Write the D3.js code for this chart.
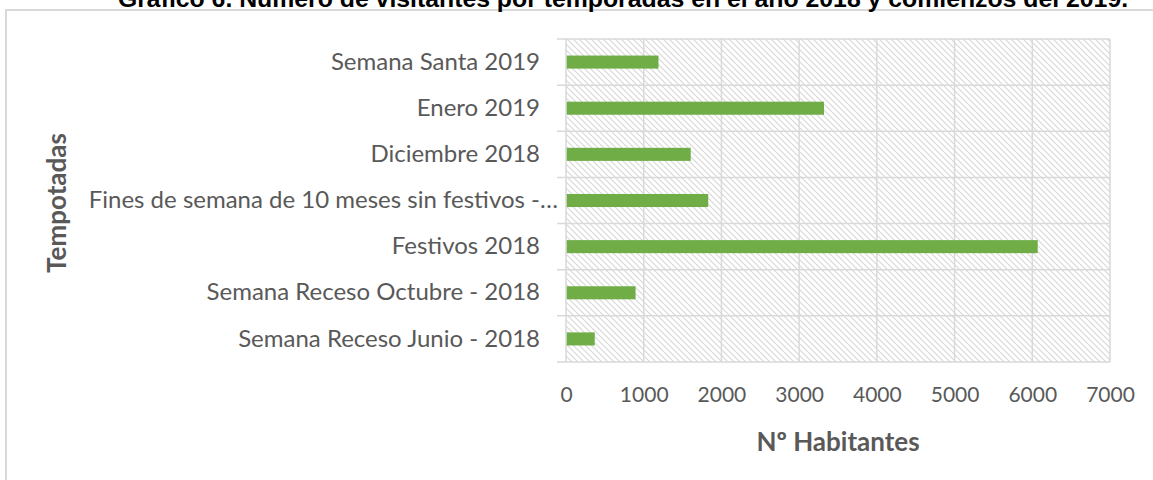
<!DOCTYPE html>
<html>
<head>
<meta charset="utf-8">
<script src="https://cdn.jsdelivr.net/npm/d3@7"></script>
<style>
  body { margin: 0; background: #fff; }
  svg { display: block; }
  .cat text, .val text { fill: #595959; font-family: Lato, sans-serif; }
  .axis-title { fill: #595959; font-family: Lato, sans-serif; font-weight: bold; }
</style>
</head>
<body>
<div class="container"></div>
<script>
const w = 1153;
const h = 480;

const title = 'Gráfico 6. Número de visitantes por temporadas en el año 2018 y comienzos del 2019.';
const categories = [
  'Semana Santa 2019',
  'Enero 2019',
  'Diciembre 2018',
  'Fines de semana de 10 meses sin festivos -…',
  'Festivos 2018',
  'Semana Receso Octubre - 2018',
  'Semana Receso Junio - 2018'
];
const visitors = [1190, 3320, 1605, 1830, 6070, 895, 370];
const xTicks = [0, 1000, 2000, 3000, 4000, 5000, 6000, 7000];

const plot = { left: 566, right: 1110, top: 39, bottom: 362 };
const grid = '#d9d9d9';

const svg = d3.select('.container').append('svg')
    .attr('width', w)
    .attr('height', h);

const defs = svg.append('defs');
defs.append('pattern')
    .attr('id', 'hatch')
    .attr('patternUnits', 'userSpaceOnUse')
    .attr('width', 6)
    .attr('height', 6)
  .append('path')
    .attr('d', 'M-1,-1L7,7M-1,5L1,7M5,-1L7,1')
    .attr('stroke', '#d6d6d6')
    .attr('stroke-width', 1.1);

// outer chart frame (runs off the right and bottom edge)
svg.append('rect')
    .attr('x', 6)
    .attr('y', 10)
    .attr('width', 1200)
    .attr('height', 500)
    .attr('fill', 'none')
    .attr('stroke', grid)
    .attr('stroke-width', 2);

// title is cut by the top edge in the original screenshot
svg.append('text')
    .attr('x', 623)
    .attr('y', 7)
    .attr('text-anchor', 'middle')
    .style('font-family', '"Liberation Sans", Arial, sans-serif')
    .style('font-weight', 'bold')
    .style('font-size', '24.8px')
    .text(title);

const x = d3.scaleLinear()
    .domain([0, 7000])
    .range([plot.left, plot.right]);

const y = d3.scaleBand()
    .domain(categories)
    .range([plot.top, plot.bottom])
    .paddingInner(0.717)
    .paddingOuter(0.3585);

// hatched plot area
svg.append('rect')
    .attr('x', plot.left)
    .attr('y', plot.top)
    .attr('width', plot.right - plot.left)
    .attr('height', plot.bottom - plot.top)
    .attr('fill', 'url(#hatch)');

// vertical gridlines
svg.append('g')
  .selectAll('line')
  .data(xTicks)
  .join('line')
    .attr('x1', d => x(d))
    .attr('x2', d => x(d))
    .attr('y1', plot.top)
    .attr('y2', plot.bottom)
    .attr('stroke', grid)
    .attr('stroke-width', 1.5);

// horizontal category separators
const step = y.step();
const seps = d3.range(categories.length + 1).map(i => plot.top + i * step);
svg.append('g')
  .selectAll('line')
  .data(seps)
  .join('line')
    .attr('x1', plot.left - 9)
    .attr('x2', plot.right)
    .attr('y1', d => d)
    .attr('y2', d => d)
    .attr('stroke', grid)
    .attr('stroke-width', 1.5);

svg.append('g')
  .selectAll('rect')
  .data(visitors)
  .join('rect')
    .attr('x', x(0) + 0.75)
    .attr('y', (d, i) => y(categories[i]))
    .attr('width', d => x(d) - x(0) - 0.75)
    .attr('height', y.bandwidth())
    .attr('fill', '#70ad47');

const yAxis = svg.append('g')
    .attr('class', 'cat')
    .attr('transform', `translate(${plot.left}, 0)`)
    .call(d3.axisLeft(y).tickSize(0).tickPadding(26));
yAxis.select('.domain').remove();
yAxis.selectAll('text')
    .style('font-size', '24px')
    .each(function () {
      // the long truncated label sits closer to the axis, as in the original
      if (this.getComputedTextLength() > 400) d3.select(this).attr('x', -8);
    });

const xAxis = svg.append('g')
    .attr('class', 'val')
    .attr('transform', `translate(0, ${plot.bottom})`)
    .call(d3.axisBottom(x).tickValues(xTicks).tickFormat(d3.format('d')).tickSize(0).tickPadding(25));
xAxis.select('.domain').remove();
xAxis.selectAll('text').style('font-size', '21px');

svg.append('text')
    .attr('class', 'axis-title')
    .attr('x', 838)
    .attr('y', 451)
    .attr('text-anchor', 'middle')
    .style('font-size', '26px')
    .text('Nº Habitantes');

svg.append('text')
    .attr('class', 'axis-title')
    .attr('transform', 'translate(66, 203) rotate(-90)')
    .attr('text-anchor', 'middle')
    .style('font-size', '26px')
    .text('Tempotadas');
</script>
</body>
</html>
